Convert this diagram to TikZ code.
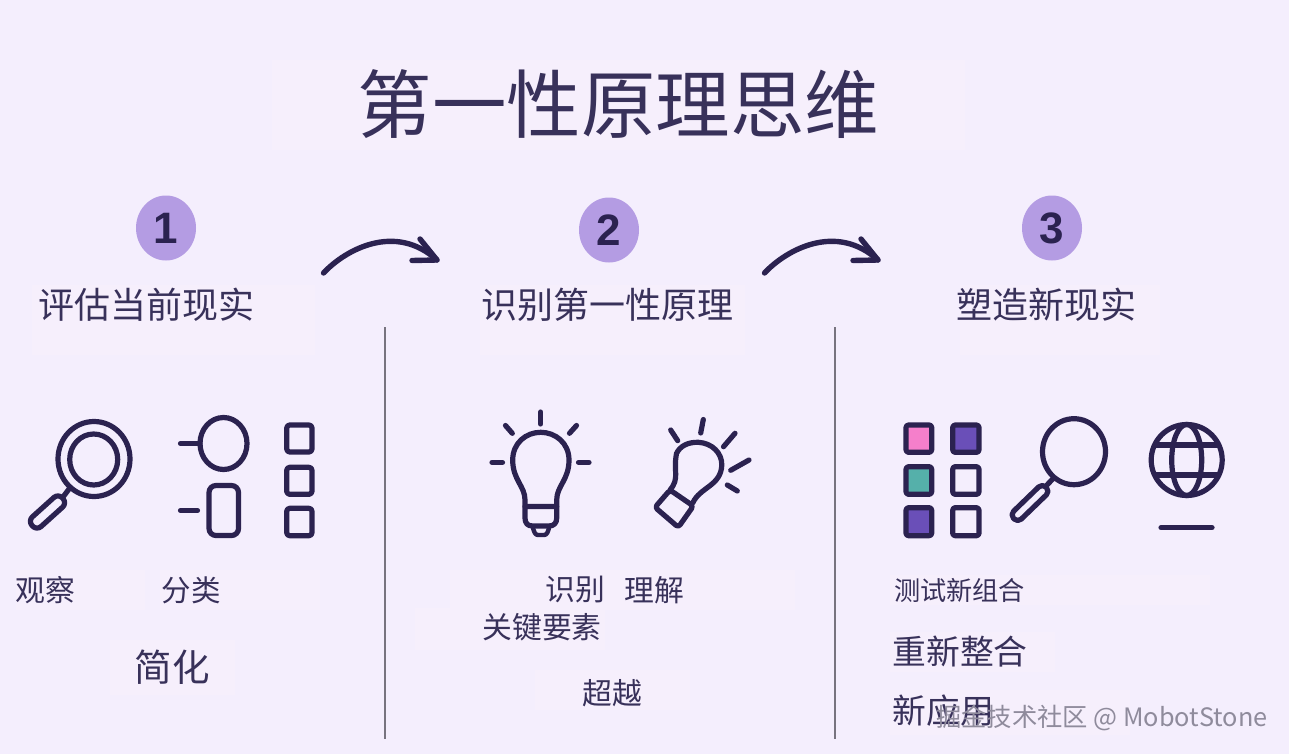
\documentclass[tikz,border=0pt]{standalone}
\usepackage{fontspec}
\setmainfont{Noto Sans CJK SC}
\newfontfamily\numfont{Liberation Sans}
\definecolor{pagebg}{HTML}{F4EEFD}
\definecolor{patch}{HTML}{F6EFFC}
\definecolor{ink}{HTML}{2B2250}
\definecolor{txt}{HTML}{38315A}
\definecolor{badge}{HTML}{B49CE3}
\definecolor{rule}{HTML}{77737F}
\definecolor{pinkfill}{HTML}{F57FCB}
\definecolor{purplefill}{HTML}{6A4FB8}
\definecolor{tealfill}{HTML}{55B0AA}
\definecolor{mark}{HTML}{8F8B9C}
\newcommand{\fsz}[1]{\fontsize{#1}{#1}\selectfont}
\tikzset{
  label/.style={inner sep=0pt,outer sep=0pt,text=txt,anchor=center},
  icon/.style={draw=ink,line width=5.2pt,line cap=round,line join=round},
  thin icon/.style={draw=ink,line width=4.4pt,line cap=round,line join=round},
  flow/.style={draw=ink,line width=5.4pt,line cap=round,line join=round},
  divider/.style={draw=rule,line width=1.3pt},
  numbadge/.style={ellipse,fill=badge,minimum width=60pt,minimum height=65pt,inner sep=0pt,text=ink,font=\numfont\bfseries\fsz{44}},
  patchbox/.style={fill=patch,draw=none},
}
\usetikzlibrary{shapes.geometric}
\begin{document}
\begin{tikzpicture}[x=1pt,y=-1pt]
\useasboundingbox (0,0) rectangle (1289,754);
\fill[pagebg] (0,0) rectangle (1289,754);
% faint patches behind the texts
\foreach \a/\b/\c/\d in {272/60/965/150,32/285/315/355,480/285/745/355,960/285/1160/355,16/570/145/610,160/570/320/610,110/640/235/695,450/570/795/610,415/608/605/650,535/670/690/710,890/575/1210/605,890/632/1055/672,890/690/1130/735}
  \fill[patchbox] (\a,\b) rectangle (\c,\d);
% title
\node[label,font=\fsz{74.5}] (title) at (618.5,104) {第一性原理思维};
% badges
\node[numbadge] (n1) at (166,228) {1};
\node[numbadge] (n2) at (609,230) {2};
\node[numbadge] (n3) at (1052,228) {3};
% headings
\node[label,font=\fsz{36}] (h1) at (146.5,305) {评估当前现实};
\node[label,font=\fsz{36}] (h2) at (607,305) {识别第一性原理};
\node[label,font=\fsz{36}] (h3) at (1046,305) {塑造新现实};
% arrows
\coordinate (a1s) at (323.5,273);
\coordinate (a1e) at (437,260);
\coordinate (a1u) at (420,239);
\coordinate (a1d) at (412,260.5);
\draw[flow] (a1s) .. controls (345,250) and (395,222) .. (a1e);
\draw[flow] (a1u) -- (a1e) -- (a1d);
\coordinate (a2s) at (764.5,273);
\coordinate (a2e) at (878,260);
\coordinate (a2u) at (861,239);
\coordinate (a2d) at (853,260.5);
\draw[flow] (a2s) .. controls (786,250) and (836,222) .. (a2e);
\draw[flow] (a2u) -- (a2e) -- (a2d);
% dividers
\coordinate (d1t) at (385,327);
\coordinate (d1b) at (385,739);
\coordinate (d2t) at (835,327);
\coordinate (d2b) at (835,739);
\draw[divider] (d1t) -- (d1b);
\draw[divider] (d2t) -- (d2b);
% magnifier 1
\draw[icon] (94,459) ellipse [x radius=36,y radius=37.5];
\draw[icon] (93.7,459.5) ellipse [x radius=24,y radius=25.5];
\draw[icon] (63,497) -- (69,489);
\draw[icon,rounded corners=6pt,rotate around={42:(47.5,512)}] (27,505.5) rectangle (68,518.5);
% classify icon
\draw[icon] (223.5,443.5) ellipse [x radius=23.5,y radius=26];
\draw[icon] (180.5,443.5) -- (200,443.5);
\draw[icon,rounded corners=7pt] (209,485.5) rectangle (238.5,535.5);
\draw[icon] (180.5,510.5) -- (197.5,510.5);
\foreach \t/\b in {425/452,467.3/494.3,508.3/535.7}
  \draw[icon,rounded corners=3pt] (286.7,\t) rectangle (312,\b);
% bulb 1
\draw[icon] (525,506.5) -- (525,500) .. controls (525,486) and (512.7,480) .. (512.7,460)
  .. controls (512.7,443) and (526,432.3) .. (540.7,432.3)
  .. controls (555.4,432.3) and (569,443) .. (569,460)
  .. controls (569,480) and (556.7,486) .. (556.7,500) -- (556.7,506.5);
\draw[icon] (525,506.5) -- (556.7,506.5) -- (556.7,518) .. controls (556.7,523) and (554,526) .. (549,526)
  -- (532.5,526) .. controls (527.5,526) and (525,523) .. (525,518) -- cycle;
\draw[thin icon] (532.5,526) .. controls (534,532) and (535,535) .. (538,535) -- (544,535) .. controls (547,535) and (548,532) .. (549.5,526);
\draw[icon] (540.7,412) -- (540.7,424);
\draw[icon] (505.5,425.5) -- (512.3,433.3);
\draw[icon] (576.5,425.5) -- (569.5,433.3);
\draw[icon] (492,462.3) -- (502.5,462.3);
\draw[icon] (578.5,462.3) -- (589,462.3);
% bulb 2
\draw[icon,rounded corners=3pt] (670,490) -- (693.3,506) -- (678.3,527.3) -- (655,507.3) -- cycle;
\draw[icon] (670,490) .. controls (680,478) and (673,472) .. (676.5,453.5)
  .. controls (680,446) and (688,442) .. (698.3,442.3)
  .. controls (712,443) and (722,453) .. (721.8,465)
  .. controls (721,486) and (700,487) .. (692.7,503);
\draw[icon] (670.7,430) -- (677.7,440.7);
\draw[icon] (703.3,419.5) -- (700.7,433);
\draw[icon] (735,433.3) -- (723.5,446.7);
\draw[icon] (749,460) -- (730.7,470.3);
\draw[icon] (727.3,485) -- (737.3,491);
% tiles
\foreach \x/\y/\w/\z/\f in {906/425/931.7/452.3/pinkfill,952.7/425/979/452.3/purplefill,906/466.7/931.7/494.3/tealfill,906/507.7/931.7/535.7/purplefill}
  \draw[icon,rounded corners=2.5pt,fill=\f] (\x,\y) rectangle (\w,\z);
\draw[icon,rounded corners=2.5pt] (952.7,466.7) rectangle (979,494.3);
\draw[icon,rounded corners=2.5pt] (952.7,507.7) rectangle (979,535.7);
% magnifier 2
\draw[icon] (1074,451.7) ellipse [x radius=31.5,y radius=33];
\draw[icon] (1053.3,478.3) -- (1046.5,485.5);
\draw[icon,rounded corners=5pt,rotate around={44:(1030,503)}] (1007.5,497.5) rectangle (1052.5,508.5);
% globe
\draw[icon] (1186.7,460) circle [radius=35.5];
\draw[icon] (1186.7,460) ellipse [x radius=15,y radius=35.5];
\draw[icon] (1156,445) -- (1217.4,445);
\draw[icon] (1156,475) -- (1217.4,475);
\draw[icon] (1161,527.7) -- (1212,527.7);
% item labels
\node[label,font=\fsz{29.8}] (t1) at (45.5,590) {观察};
\node[label,font=\fsz{29.5}] (t2) at (191,590) {分类};
\node[label,font=\fsz{37.5}] (t3) at (172,667) {简化};
\node[label,font=\fsz{29.8}] (t4) at (575,590) {识别};
\node[label,font=\fsz{29.8}] (t5) at (654.5,590) {理解};
\node[label,font=\fsz{29.8}] (t6) at (542,627) {关键要素};
\node[label,font=\fsz{29.8}] (t7) at (612.5,693) {超越};
\node[label,font=\fsz{26.2}] (t8) at (959.5,590) {测试新组合};
\node[label,font=\fsz{33.8}] (t9) at (960,652) {重新整合};
\node[label,font=\fsz{33.8}] (t10) at (943.5,711) {新应用};
% watermark
\node[inner sep=0pt,anchor=center,text=mark,font=\fsz{25.3}] (wm) at (1102,718) {掘金技术社区 @ MobotStone};
\end{tikzpicture}
\end{document}
